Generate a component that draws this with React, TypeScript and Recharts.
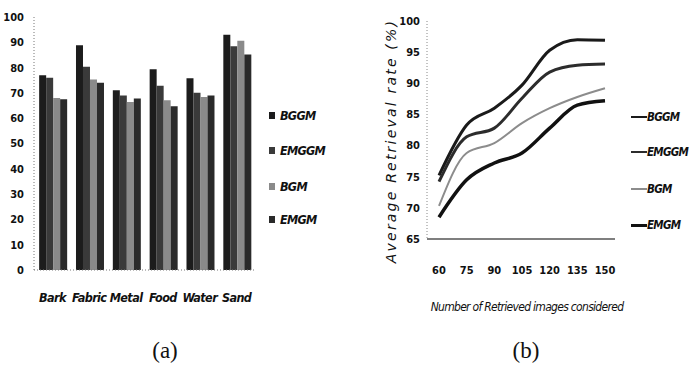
import { BarChart, Bar, LineChart, Line, XAxis, YAxis } from "recharts";

const categories = ["Bark", "Fabric", "Metal", "Food", "Water", "Sand"];
const bggmBars = [77, 88.8, 71, 79.3, 75.8, 93];
const emggmBars = [76, 80.3, 69, 72.8, 70.1, 88.4];
const bgmBars = [68, 75.3, 66.4, 67.1, 68.4, 90.6];
const emgmBars = [67.5, 74, 67.8, 64.7, 69, 85.2];
const barTicks = [0, 10, 20, 30, 40, 50, 60, 70, 80, 90, 100];

const retrieved = [60, 75, 90, 105, 120, 135, 150];
const bggmRate = [75.2, 83.3, 86, 89.7, 95.3, 97, 96.9];
const emggmRate = [74.2, 81.4, 82.8, 87.6, 91.8, 92.9, 93.1];
const bgmRate = [70.3, 78.8, 80.4, 83.6, 86, 87.8, 89.2];
const emgmRate = [68.5, 74.5, 77.2, 78.8, 82.8, 86.5, 87.2];
const rateTicks = [65, 70, 75, 80, 85, 90, 95, 100];

const methods = ["BGGM", "EMGGM", "BGM", "EMGM"];
const barColors = ["#1c1c1c", "#3a3a3a", "#8a8a8a", "#2a2a2a"];
const lineColors = ["#1a1a1a", "#2c2c2c", "#8c8c8c", "#111111"];
const lineWidths = [3, 3, 2, 3.5];

const narrow = '"DejaVu Sans Condensed", "Liberation Sans Narrow", sans-serif';

const barData = categories.map((c, i) => ({
  name: c,
  BGGM: bggmBars[i],
  EMGGM: emggmBars[i],
  BGM: bgmBars[i],
  EMGM: emgmBars[i]
}));

const lineData = retrieved.map((n, i) => ({
  n: String(n),
  BGGM: bggmRate[i],
  EMGGM: emggmRate[i],
  BGM: bgmRate[i],
  EMGM: emgmRate[i]
}));

const tickStyle = { fontSize: 11, fontWeight: 700, fill: "#111", fontFamily: narrow };

const legendText = {
  fontFamily: narrow,
  fontWeight: 700,
  fontStyle: "italic" as const,
  fontSize: 12.5,
  letterSpacing: -0.7,
  color: "#111",
  whiteSpace: "nowrap" as const
};

export default function App() {
  return (
    <div
      style={{
        position: "absolute",
        left: 0,
        top: 0,
        width: 692,
        height: 389,
        background: "#fff",
        overflow: "hidden"
      }}
    >
      {/* (a) bars */}
      <div style={{ position: "absolute", left: 0, top: 0 }}>
        <BarChart
          width={345}
          height={320}
          data={barData}
          margin={{ top: 17, right: 90, left: 0, bottom: 10 }}
          barCategoryGap="14%"
          barGap={0}
        >
          <XAxis
            dataKey="name"
            height={40}
            tickLine={false}
            tickSize={0}
            tickMargin={23}
            axisLine={{ stroke: "#777", strokeDasharray: "1 2" }}
            tick={{
              fontSize: 12.5,
              fontWeight: 700,
              fontStyle: "italic",
              letterSpacing: -0.6,
              fill: "#111",
              fontFamily: narrow
            }}
          />
          <YAxis
            width={34}
            domain={[0, 100]}
            ticks={barTicks}
            interval={0}
            tickLine={false}
            tickSize={0}
            tickMargin={10}
            axisLine={{ stroke: "#777", strokeDasharray: "1 2" }}
            tick={tickStyle}
          />
          {methods.map((m, i) => (
            <Bar key={m} dataKey={m} fill={barColors[i]} isAnimationActive={false} />
          ))}
        </BarChart>
      </div>
      {methods.map((m, i) => (
        <div
          key={m}
          style={{
            ...legendText,
            position: "absolute",
            left: 269,
            top: [115, 150, 186, 219][i] - 9,
            height: 18,
            display: "flex",
            alignItems: "center",
            gap: 5
          }}
        >
          <span style={{ width: 6, height: 7, background: barColors[i], display: "inline-block" }} />
          {m}
        </div>
      ))}

      {/* (b) lines */}
      <div style={{ position: "absolute", left: 350, top: 0 }}>
        <LineChart
          width={342}
          height={320}
          data={lineData}
          margin={{ top: 21, right: 77, left: 0, bottom: 41 }}
        >
          <XAxis
            dataKey="n"
            height={40}
            padding={{ left: 12, right: 10 }}
            tickLine={false}
            tickSize={0}
            tickMargin={27}
            axisLine={{ stroke: "#555", strokeWidth: 1.5 }}
            tick={tickStyle}
          />
          <YAxis
            width={77}
            type="number"
            domain={[65, 100]}
            ticks={rateTicks}
            interval={0}
            tickLine={false}
            tickSize={0}
            tickMargin={7}
            axisLine={{ stroke: "#888", strokeDasharray: "1 2" }}
            tick={tickStyle}
            label={{
              content: () => (
                <text
                  x={42}
                  y={141}
                  transform="rotate(-90 42 141)"
                  textAnchor="middle"
                  dominantBaseline="middle"
                  style={{
                    fontFamily: '"DejaVu Sans", sans-serif',
                    fontStyle: "italic",
                    fontSize: 14,
                    letterSpacing: 2.2,
                    fill: "#111"
                  }}
                >
                  Average Retrieval rate (%)
                </text>
              )
            }}
          />
          {methods.map((m, i) => (
            <Line
              key={m}
              type="monotone"
              dataKey={m}
              stroke={lineColors[i]}
              strokeWidth={lineWidths[i]}
              dot={false}
              isAnimationActive={false}
            />
          ))}
        </LineChart>
      </div>
      {methods.map((m, i) => (
        <div
          key={m}
          style={{
            ...legendText,
            fontSize: 11.5,
            position: "absolute",
            left: 631,
            top: [117, 152, 189, 225][i] - 9,
            height: 18,
            display: "flex",
            alignItems: "center"
          }}
        >
          <span
            style={{
              width: 16,
              height: lineWidths[i] - 0.5,
              background: lineColors[i],
              display: "inline-block"
            }}
          />
          {m}
        </div>
      ))}
      <div
        style={{
          position: "absolute",
          left: 417,
          top: 300,
          width: 220,
          textAlign: "center",
          fontFamily: narrow,
          fontStyle: "italic",
          fontSize: 12,
          letterSpacing: -0.7,
          color: "#111",
          whiteSpace: "nowrap"
        }}
      >
        Number of Retrieved images considered
      </div>

      <div
        style={{
          position: "absolute",
          left: 145,
          top: 338,
          width: 40,
          textAlign: "center",
          fontFamily: '"Liberation Serif", serif',
          fontSize: 23,
          color: "#111"
        }}
      >
        (a)
      </div>
      <div
        style={{
          position: "absolute",
          left: 506,
          top: 338,
          width: 40,
          textAlign: "center",
          fontFamily: '"Liberation Serif", serif',
          fontSize: 23,
          color: "#111"
        }}
      >
        (b)
      </div>
    </div>
  );
}
